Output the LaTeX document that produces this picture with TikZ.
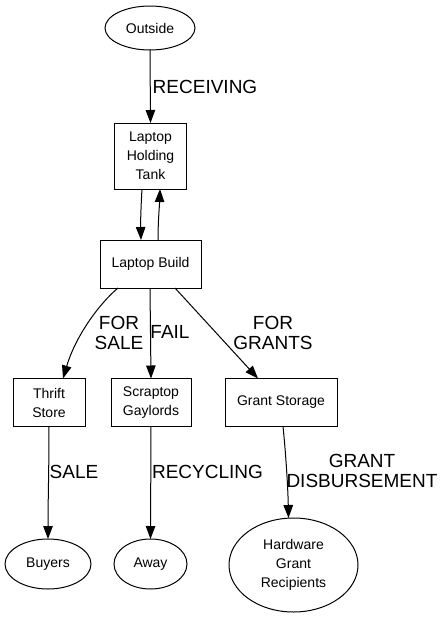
\documentclass[tikz,border=0pt]{standalone}
\usepackage{fontspec}
\setmainfont{Liberation Sans}
\usetikzlibrary{arrows.meta,shapes.geometric}
\begin{document}
\begin{tikzpicture}[x=1pt,y=-1pt,
  every node/.style={inner sep=0pt, outer sep=0pt},
  box/.style={draw, line width=1pt, rectangle, align=center, font=\fontsize{14}{19}\selectfont},
  oval/.style={draw, line width=1pt, ellipse, align=center, font=\fontsize{14}{19}\selectfont},
  lbl/.style={align=center, font=\fontsize{19}{20}\selectfont},
  flow/.style={line width=1pt, -{Triangle[length=13pt,width=9.5pt]}}]
\useasboundingbox (0,0) rectangle (444,619);
\node[oval, minimum width=90pt, minimum height=44pt] (out) at (150,28) {Outside};
\node[box, minimum width=72pt, minimum height=66pt] (lht) at (150.5,156) {Laptop\\Holding\\Tank};
\node[box, minimum width=101pt, minimum height=48pt] (lb) at (150.5,264) {Laptop Build};
\node[box, minimum width=72pt, minimum height=48pt] (ts) at (49,402.5) {Thrift\\Store};
\node[box, minimum width=80pt, minimum height=48pt] (sg) at (151,402.5) {Scraptop\\Gaylords};
\node[box, minimum width=112pt, minimum height=48pt] (gs) at (281,402.5) {Grant Storage};
\node[oval, minimum width=86pt, minimum height=50pt] (buy) at (48,564) {Buyers};
\node[oval, minimum width=73pt, minimum height=50pt] (away) at (150.5,564) {Away};
\node[oval, minimum width=129pt, minimum height=94pt] (hgr) at (293.5,565) {Hardware\\Grant\\Recipients};

\draw[flow] (out.south) -- (lht.north);
\node[lbl] (l1) at (205,87) {RECEIVING};
\draw[flow] ([xshift=-8.5pt]lht.south) .. controls (141,205) and (140.5,222) .. ([xshift=-9.5pt]lb.north);
\draw[flow] ([xshift=7.5pt]lb.north) .. controls (158,222) and (159.5,205) .. ([xshift=9.5pt]lht.south);
\draw[flow] ([xshift=-32.5pt]lb.south) .. controls (100,303) and (76,335) .. ([xshift=14pt]ts.north);
\node[lbl] (l2) at (119,333) {FOR\\SALE};
\draw[flow] ([xshift=-0.5pt]lb.south) -- (sg.north);
\node[lbl] (l3) at (170,332) {FAIL};
\draw[flow] ([xshift=24.5pt]lb.south) -- ([xshift=-23pt]gs.north);
\node[lbl] (l4) at (273,333) {FOR\\GRANTS};
\draw[flow] (ts.south) .. controls (49,470) and (48,500) .. (buy.north);
\node[lbl] (l5) at (74,471.5) {SALE};
\draw[flow] (sg.south) -- (away.north);
\node[lbl] (l6) at (207.5,471.5) {RECYCLING};
\draw[flow] ([xshift=2pt]gs.south) .. controls (286,455) and (288,490) .. ([xshift=-5pt]hgr.north);
\node[lbl] (l7) at (362,471) {GRANT\\DISBURSEMENT};
\end{tikzpicture}
\end{document}
